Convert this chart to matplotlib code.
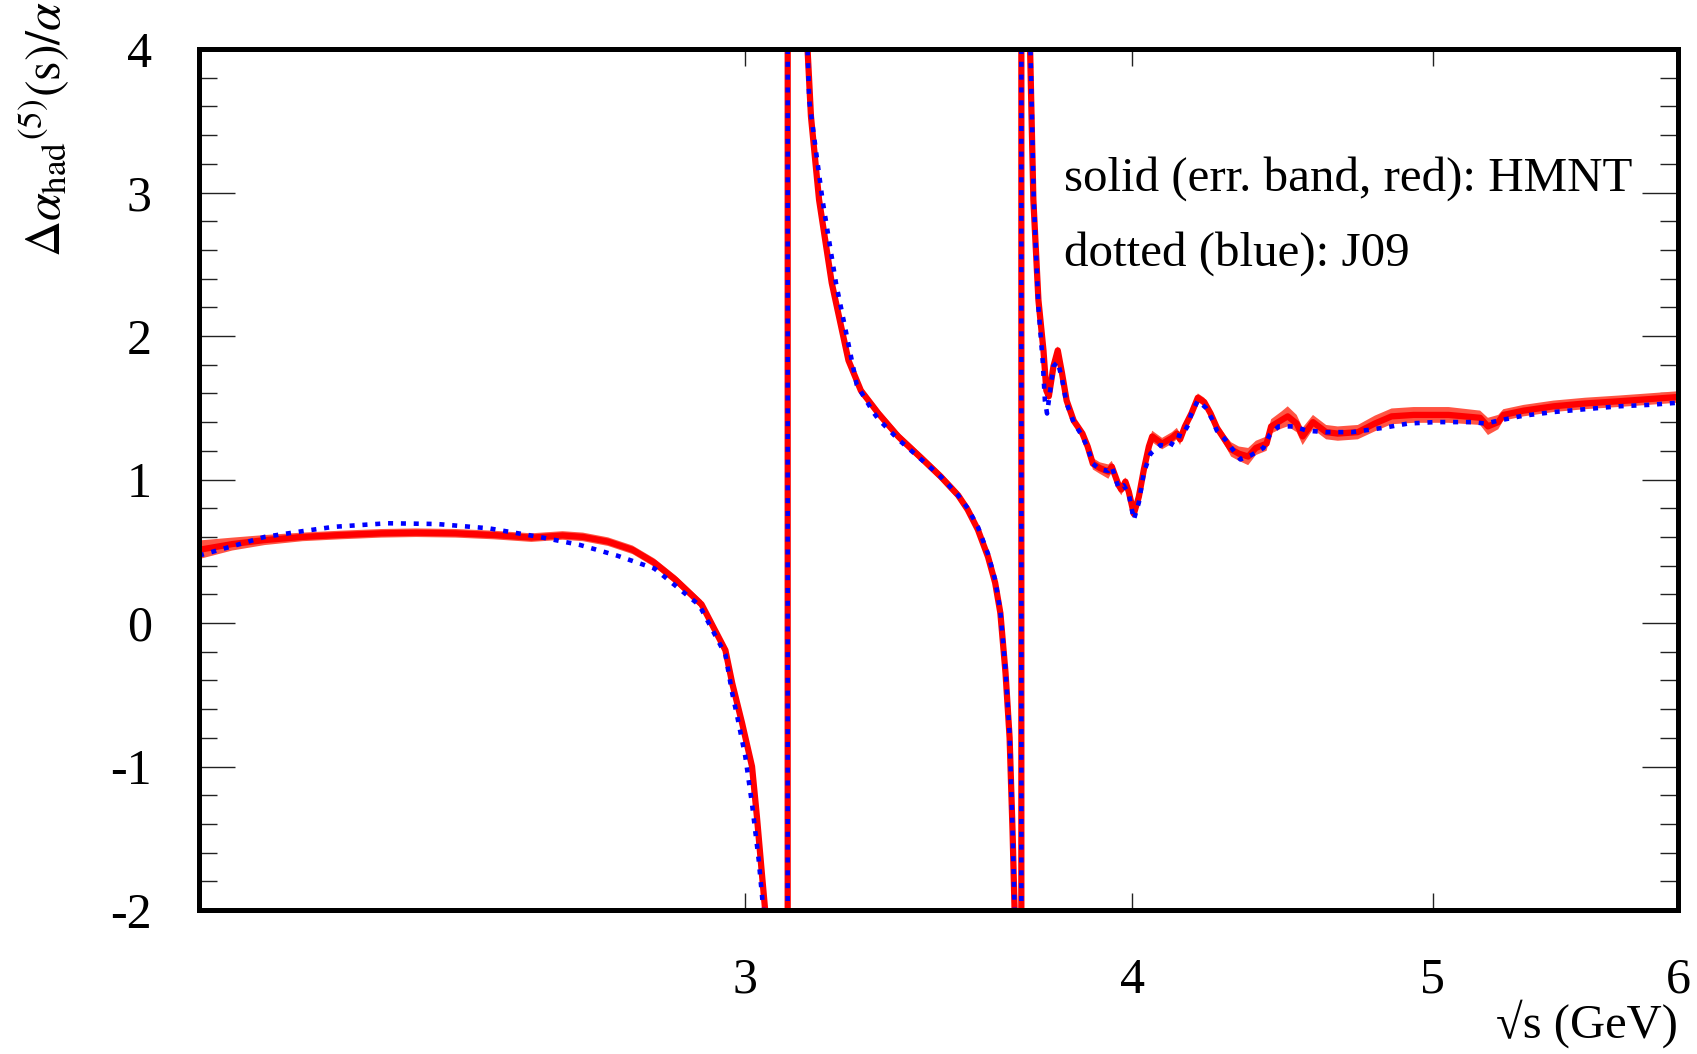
import numpy as np
import matplotlib
matplotlib.use('Agg')
import matplotlib.pyplot as plt
from matplotlib.ticker import FixedLocator, MultipleLocator, NullLocator

#Datos HMNT (linea solida roja con banda de error)
x_hmnt = [2.00, 2.05, 2.10, 2.16, 2.22, 2.29, 2.35, 2.42, 2.49, 2.56,
          2.62, 2.66, 2.71, 2.76, 2.805, 2.85, 2.905, 2.957, 2.972, 2.994,
          3.016, 3.027, 3.038, 3.047, 3.075, 3.0965, 3.0975, 3.12, 3.143, 3.151,
          3.170, 3.20, 3.24, 3.27, 3.313, 3.362, 3.42, 3.47, 3.515, 3.54,
          3.567, 3.594, 3.613, 3.627, 3.641, 3.652, 3.66, 3.666, 3.675, 3.6838,
          3.6842, 3.697, 3.708, 3.717, 3.731, 3.745, 3.753, 3.76, 3.773, 3.785,
          3.797, 3.81, 3.83, 3.855, 3.87, 3.885, 3.905, 3.93, 3.94, 3.96,
          3.968, 3.98, 3.99, 4.005, 4.02, 4.035, 4.05, 4.06, 4.09, 4.12,
          4.135, 4.145, 4.16, 4.18, 4.20, 4.22, 4.24, 4.26, 4.29, 4.305,
          4.33, 4.36, 4.385, 4.42, 4.435, 4.47, 4.49, 4.52, 4.54, 4.575,
          4.62, 4.66, 4.73, 4.79, 4.85, 4.93, 5.06, 5.18, 5.21, 5.25,
          5.27, 5.35, 5.47, 5.60, 5.74, 5.87, 6.00]
y_hmnt = [0.51, 0.55, 0.578, 0.60, 0.613, 0.625, 0.629, 0.625, 0.613, 0.595,
          0.61, 0.60, 0.567, 0.51, 0.42, 0.30, 0.13, -0.19, -0.42, -0.70,
          -1.00, -1.35, -1.74, -2.05, -6.0, -60.0, 60.0, 8.0, 4.0, 3.53,
          2.95, 2.37, 1.83, 1.62, 1.46, 1.30, 1.15, 1.02, 0.89, 0.79,
          0.65, 0.46, 0.28, 0.07, -0.35, -0.80, -1.45, -2.05, -6.0, -60.0,
          60.0, 8.0, 4.0, 2.95, 2.25, 1.90, 1.62, 1.58, 1.79, 1.90,
          1.74, 1.55, 1.41, 1.32, 1.23, 1.11, 1.08, 1.055, 1.09, 0.96,
          0.93, 0.985, 0.915, 0.76, 0.88, 1.07, 1.23, 1.30, 1.25, 1.29,
          1.32, 1.28, 1.37, 1.46, 1.57, 1.54, 1.46, 1.36, 1.26, 1.21,
          1.18, 1.16, 1.22, 1.25, 1.37, 1.415, 1.44, 1.39, 1.30, 1.40,
          1.33, 1.32, 1.33, 1.39, 1.44, 1.45, 1.45, 1.43, 1.37, 1.40,
          1.45, 1.48, 1.51, 1.53, 1.545, 1.56, 1.575]
err_hmnt = [0.065, 0.045, 0.035, 0.03, 0.03, 0.03, 0.03, 0.03, 0.03, 0.03,
            0.03, 0.03, 0.03, 0.03, 0.03, 0.03, 0.03, 0.03, 0.03, 0.03,
            0.03, 0.03, 0.03, 0.03, 0.05, 0.1, 0.1, 0.05, 0.03, 0.03,
            0.03, 0.03, 0.03, 0.03, 0.03, 0.03, 0.03, 0.03, 0.03, 0.03,
            0.03, 0.03, 0.03, 0.03, 0.03, 0.03, 0.03, 0.03, 0.05, 0.1,
            0.1, 0.05, 0.03, 0.03, 0.03, 0.03, 0.03, 0.03, 0.03, 0.03,
            0.03, 0.03, 0.03, 0.03, 0.03, 0.04, 0.04, 0.05, 0.04, 0.04,
            0.04, 0.03, 0.03, 0.03, 0.03, 0.03, 0.03, 0.04, 0.04, 0.04,
            0.04, 0.04, 0.03, 0.03, 0.03, 0.03, 0.03, 0.03, 0.04, 0.05,
            0.05, 0.06, 0.05, 0.05, 0.05, 0.06, 0.07, 0.06, 0.06, 0.05,
            0.05, 0.05, 0.05, 0.055, 0.055, 0.055, 0.055, 0.05, 0.06, 0.05,
            0.04, 0.04, 0.04, 0.04, 0.04, 0.04, 0.04]

#Datos J09 (linea punteada azul)
x_j09 = [2.00, 2.05, 2.10, 2.16, 2.21, 2.30, 2.386, 2.48, 2.575, 2.654,
         2.728, 2.805, 2.90, 2.957, 2.972, 2.983, 3.001, 3.016, 3.031, 3.043,
         3.075, 3.0965, 3.0975, 3.12, 3.143, 3.147, 3.178, 3.21, 3.236, 3.26,
         3.30, 3.313, 3.362, 3.42, 3.47, 3.515, 3.54, 3.567, 3.594, 3.613,
         3.627, 3.641, 3.652, 3.66, 3.666, 3.675, 3.6838, 3.6842, 3.697, 3.709,
         3.718, 3.731, 3.743, 3.749, 3.755, 3.773, 3.785, 3.797, 3.81, 3.83,
         3.855, 3.87, 3.885, 3.905, 3.93, 3.94, 3.96, 3.975, 3.99, 4.005,
         4.02, 4.035, 4.055, 4.085, 4.115, 4.135, 4.15, 4.17, 4.18, 4.20,
         4.225, 4.245, 4.26, 4.29, 4.31, 4.335, 4.37, 4.41, 4.43, 4.46,
         4.51, 4.555, 4.62, 4.71, 4.82, 4.91, 5.01, 5.15, 5.20, 5.25,
         5.35, 5.47, 5.60, 5.74, 5.87, 6.00]
y_j09 = [0.47, 0.535, 0.60, 0.64, 0.67, 0.695, 0.69, 0.66, 0.60, 0.544,
         0.47, 0.38, 0.125, -0.22, -0.49, -0.65, -0.93, -1.26, -1.65, -2.05,
         -6.0, -60.0, 60.0, 8.0, 4.0, 3.64, 2.95, 2.37, 2.0, 1.66,
         1.47, 1.42, 1.28, 1.14, 1.02, 0.89, 0.80, 0.67, 0.48, 0.30,
         0.08, -0.33, -0.78, -1.45, -2.05, -6.0, -60.0, 60.0, 8.0, 4.0,
         2.95, 2.2, 1.82, 1.55, 1.46, 1.79, 1.82, 1.70, 1.53, 1.40,
         1.30, 1.22, 1.11, 1.07, 1.06, 1.09, 0.94, 0.96, 0.90, 0.72,
         0.84, 1.05, 1.18, 1.24, 1.23, 1.31, 1.30, 1.38, 1.46, 1.55,
         1.50, 1.42, 1.34, 1.27, 1.21, 1.14, 1.17, 1.22, 1.31, 1.37,
         1.37, 1.34, 1.33, 1.33, 1.36, 1.39, 1.40, 1.40, 1.39, 1.41,
         1.445, 1.47, 1.49, 1.51, 1.52, 1.535]

x_ticks = [3, 4, 5, 6]
x_tick_labels = ['3', '4', '5', '6']
y_ticks = [-2, -1, 0, 1, 2, 3, 4]
y_tick_labels = ['-2', '-1', '0', '1', '2', '3', '4']

plt.rcParams['font.family'] = ['Liberation Serif', 'DejaVu Serif']
plt.rcParams['mathtext.fontset'] = 'stix'

fig = plt.figure(figsize=(16.97, 10.54), dpi=100)
ax = fig.add_axes([199 / 1697, 1 - 910 / 1054, 1479 / 1697, 861 / 1054])

#Banda de error y curvas
y_c = np.array(y_hmnt)
e_c = np.array(err_hmnt)
ax.fill_between(x_hmnt, y_c - e_c, y_c + e_c, color='#ff5544', lw=0, zorder=2)
ax.plot(x_hmnt, y_hmnt, color='#ff0000', lw=4.5, zorder=3, solid_joinstyle='round')
ax.plot(x_j09, y_j09, color='#0000ff', lw=3.3, ls=(0, (1.1, 1.7)),
        dash_capstyle='butt', zorder=4)

ax.set_xscale('log')
ax.set_xlim(2, 6)
ax.set_ylim(-2, 4)

ax.xaxis.set_major_locator(FixedLocator(x_ticks))
ax.set_xticklabels(x_tick_labels)
ax.xaxis.set_minor_locator(NullLocator())
ax.yaxis.set_major_locator(FixedLocator(y_ticks))
ax.set_yticklabels(y_tick_labels)
ax.yaxis.set_minor_locator(MultipleLocator(0.2))

ax.tick_params(axis='x', which='major', direction='in', top=True, length=12,
               width=1.0, color='#222222', labelsize=36, pad=34)
ax.tick_params(axis='y', which='major', direction='in', right=True, length=26,
               width=1.0, color='#222222', labelsize=36, pad=34)
ax.tick_params(axis='y', which='minor', direction='in', right=True, length=13,
               width=1.0, color='#222222')

for s in ax.spines.values():
    s.set_linewidth(3.6)
    s.set_zorder(5)

#Etiquetas de ejes
fig.text(0.026, 0.999, r'$\Delta\alpha_{\mathrm{had}}{}^{(5)}\mathrm{(s)/}\alpha$',
         rotation=90, ha='center', va='top', fontsize=36)
fig.text(1678 / 1697, 1 - 1024 / 1054, '√s (GeV)', ha='right', va='center', fontsize=35)

#Leyenda como texto
fig.text(1064 / 1697, 1 - 179 / 1054, 'solid (err. band, red): HMNT',
         ha='left', va='center', fontsize=35.3)
fig.text(1064 / 1697, 1 - 254 / 1054, 'dotted (blue): J09',
         ha='left', va='center', fontsize=35.3)

fig.savefig('out.png', dpi=100)
